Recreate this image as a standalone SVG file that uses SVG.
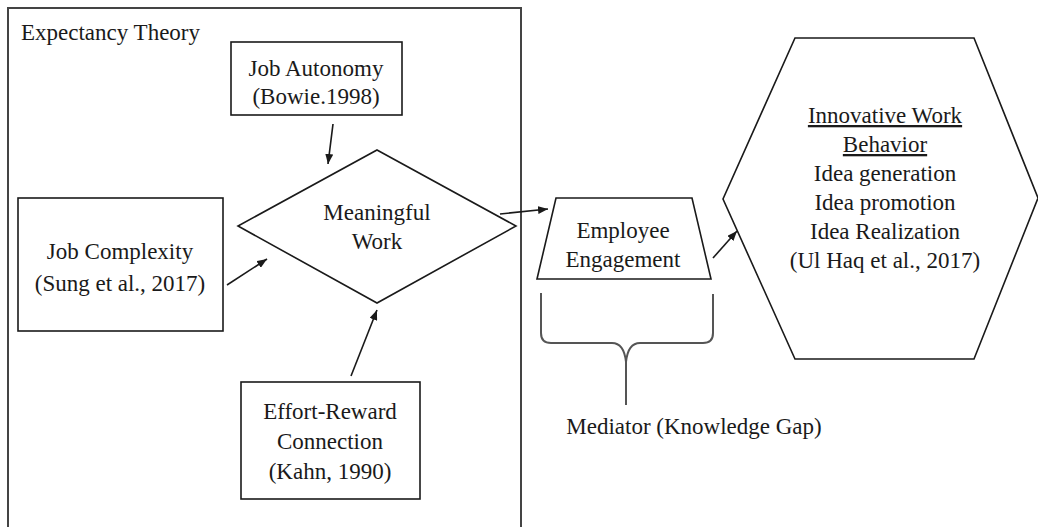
<svg xmlns="http://www.w3.org/2000/svg" width="1038" height="527" viewBox="0 0 1038 527" font-family="Liberation Serif, Times New Roman, DejaVu Serif, serif">
<style>
text{font-family:'Liberation Serif','Times New Roman','DejaVu Serif',serif;font-size:23px;fill:#1a1a1a;text-anchor:middle}
.shape{fill:#fff;stroke:#1a1a1a;stroke-width:1.6}
.frame{fill:none;stroke:#444;stroke-width:2}
.conn{fill:none;stroke:#1a1a1a;stroke-width:1.6}
.brace{fill:none;stroke:#555;stroke-width:2}
.u{text-decoration:underline}
</style>
<defs>
<marker id="ah" viewBox="0 0 10 8" refX="10" refY="4" markerWidth="10" markerHeight="8" markerUnits="userSpaceOnUse" orient="auto">
<path d="M0,0 L10,4 L0,8 z" fill="#1a1a1a"/>
</marker>
</defs>
<rect width="1038" height="527" fill="#fff"/>
<g id="expectancy-theory">
<rect class="frame" x="8" y="8" width="513" height="530"/>
<text x="21" y="40" style="text-anchor:start">Expectancy Theory</text>
</g>
<g id="job-autonomy">
<rect class="shape" x="231" y="42" width="171" height="73"/>
<text x="316" y="76">Job Autonomy</text>
<text x="316" y="104">(Bowie.1998)</text>
</g>
<g id="meaningful-work">
<polygon class="shape" points="377,150 516,226 377,303 238,226"/>
<text x="377" y="220">Meaningful</text>
<text x="377" y="249">Work</text>
</g>
<g id="job-complexity">
<rect class="shape" x="18" y="198" width="205" height="133"/>
<text x="120" y="259">Job Complexity</text>
<text x="120" y="291">(Sung et al., 2017)</text>
</g>
<g id="effort-reward">
<rect class="shape" x="241" y="382" width="179" height="117"/>
<text x="330" y="419">Effort-Reward</text>
<text x="330" y="449">Connection</text>
<text x="330" y="479">(Kahn, 1990)</text>
</g>
<g id="employee-engagement">
<polygon class="shape" points="556,198 692,198 711,279 537,279"/>
<text x="623" y="238">Employee</text>
<text x="623" y="267">Engagement</text>
</g>
<g id="innovative-work-behavior">
<polygon class="shape" points="795,38 974,38 1038,198 974,359 795,359 723,199"/>
<text x="885" y="123" class="u">Innovative Work</text>
<text x="885" y="152" class="u">Behavior</text>
<text x="885" y="181">Idea generation</text>
<text x="885" y="210">Idea promotion</text>
<text x="885" y="239">Idea Realization</text>
<text x="885" y="268">(Ul Haq et al., 2017)</text>
</g>
<g id="mediator">
<path class="brace" d="M541,293 L541,333 Q541,343 551,343 L612,343 Q624,343 626,362 L626,405"/>
<path class="brace" d="M713,294 L713,333 Q713,343 703,343 L640,343 Q628,343 626,362"/>
<text x="694" y="434">Mediator (Knowledge Gap)</text>
</g>
<g id="connectors">
<line class="conn" x1="333" y1="124" x2="328" y2="164" marker-end="url(#ah)"/>
<line class="conn" x1="227" y1="285" x2="267" y2="259" marker-end="url(#ah)"/>
<line class="conn" x1="351" y1="376" x2="377" y2="310" marker-end="url(#ah)"/>
<line class="conn" x1="500" y1="214" x2="548" y2="209" marker-end="url(#ah)"/>
<line class="conn" x1="713" y1="258" x2="737" y2="231" marker-end="url(#ah)"/>
</g>
</svg>
